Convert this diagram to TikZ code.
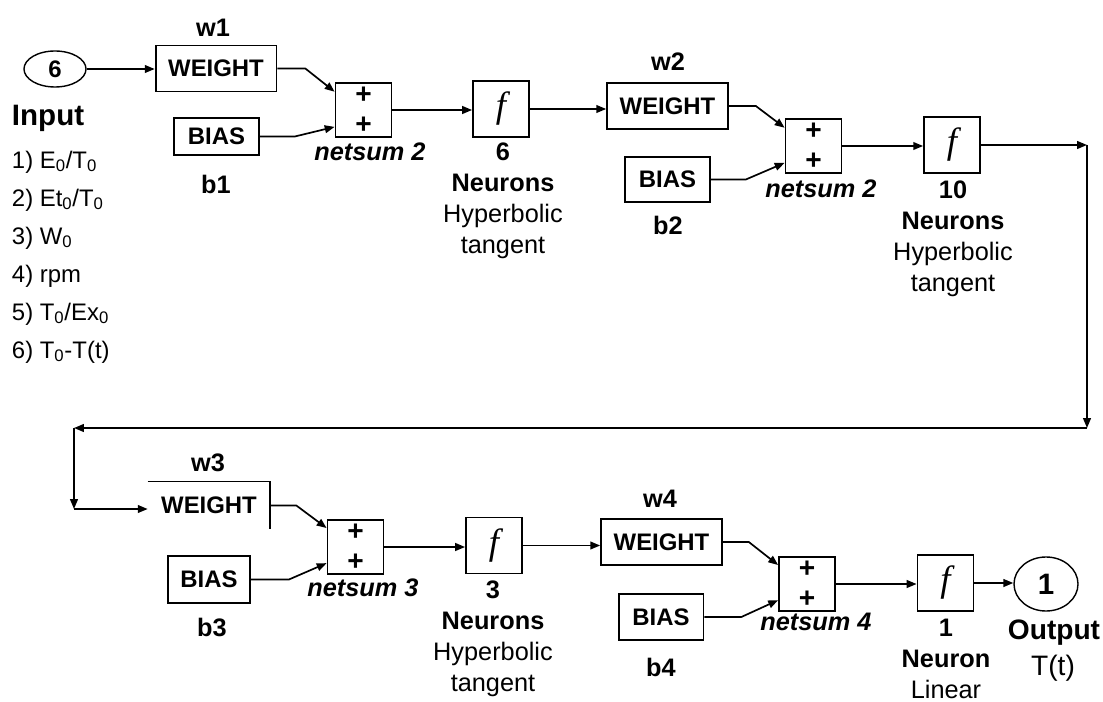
\documentclass[tikz,border=0pt]{standalone}
\usepackage{fontspec}
\setmainfont{Liberation Sans}
\newfontfamily\fnfont{Liberation Serif}
\usetikzlibrary{arrows.meta,shapes.geometric}

\begin{document}
\begin{tikzpicture}[x=0.025cm,y=-0.025cm,>={Triangle[length=7pt,width=5.5pt]},
  blk/.style={draw,line width=1.3pt,inner sep=0pt},
  wbox/.style={blk,minimum width=3.02cm,minimum height=1.15cm,font=\fontsize{17}{20}\selectfont\bfseries},
  bbox/.style={blk,minimum width=2.12cm,minimum height=1.13cm,font=\fontsize{17}{20}\selectfont\bfseries},
  sbox/.style={blk,minimum width=1.4cm,minimum height=1.37cm,align=center,font=\fontsize{20}{21}\selectfont\bfseries},
  fbox/.style={blk,minimum width=1.4cm,minimum height=1.4cm,font=\fontsize{26}{26}\selectfont\fnfont\itshape},
  io/.style={draw,ellipse,line width=1pt,inner sep=0pt},
  conn/.style={line width=1.2pt,->},
  tag/.style={font=\fontsize{18}{22}\selectfont\bfseries},
  net/.style={font=\fontsize{18}{22}\selectfont\bfseries\itshape},
  lab/.style={align=center,font=\fontsize{18}{22}\selectfont}]
\useasboundingbox (0,0) rectangle (1103,702);
% ---- input and list of variables ----
\node[io,minimum width=1.55cm,minimum height=0.9cm,font=\fontsize{17}{20}\selectfont\bfseries] (in) at (55,69) {6};
\node[anchor=west,font=\fontsize{21}{24}\selectfont\bfseries] (inlab) at (7,118) {Input};
\foreach \t [count=\i] in {{1) E\textsubscript{0}/T\textsubscript{0}},{2) Et\textsubscript{0}/T\textsubscript{0}},
  {3) W\textsubscript{0}},{4) rpm},{5) T\textsubscript{0}/Ex\textsubscript{0}},{6) T\textsubscript{0}-T(t)}}
  \node[anchor=west,font=\fontsize{17}{20}\selectfont] (item\i) at (7,{162+(\i-1)*38}) {\t};
% ---- layer 1 ----
\node[wbox] (w1) at (216,68.5) {WEIGHT};
\node[tag] (w1lab) at (213,28) {w1};
\node[bbox,minimum height=0.93cm] (b1) at (216.5,136.5) {BIAS};
\node[tag] (b1lab) at (216,184) {b1};
\node[sbox] (s1) at (363.5,110) {+\\+};
\node[net] (s1lab) at (370,152) {netsum 2};
\node[fbox] (f1) at (501,109) {f};
\node[lab] (f1lab) at (503,201) {\textbf{6}\\\textbf{Neurons}\\Hyperbolic\\tangent};
% ---- layer 2 ----
\node[wbox] (w2) at (667.5,106) {WEIGHT};
\node[tag] (w2lab) at (668,62) {w2};
\node[bbox] (b2) at (667.5,179.5) {BIAS};
\node[tag] (b2lab) at (668,225) {b2};
\node[sbox] (s2) at (813.5,146) {+\\+};
\node[net] (s2lab) at (821,189) {netsum 2};
\node[fbox] (f2) at (952,145) {f};
\node[lab] (f2lab) at (953,239) {\textbf{10}\\\textbf{Neurons}\\Hyperbolic\\tangent};
% ---- layer 3 ----
\node[wbox,draw=none] (w3) at (209,505.5) {WEIGHT};
\draw[line width=1.3pt] (w3.north west) -- (w3.north east) -- (w3.south east);
\node[tag] (w3lab) at (208,463) {w3};
\node[bbox,minimum width=2.05cm,minimum height=1.18cm] (b3) at (209,579.5) {BIAS};
\node[tag] (b3lab) at (212,627) {b3};
\node[sbox] (s3) at (355.5,547) {+\\+};
\node[net] (s3lab) at (363,588) {netsum 3};
\node[fbox] (f3) at (494,545.5) {f};
\node[lab] (f3lab) at (493,639) {\textbf{3}\\\textbf{Neurons}\\Hyperbolic\\tangent};
% ---- layer 4 ----
\node[wbox] (w4) at (661.5,542) {WEIGHT};
\node[tag] (w4lab) at (660,499) {w4};
\node[bbox] (b4) at (661,617) {BIAS};
\node[tag] (b4lab) at (661,667) {b4};
\node[sbox] (s4) at (807,584) {+\\+};
\node[net] (s4lab) at (816,622) {netsum 4};
\node[fbox] (f4) at (945.5,583) {f};
\node[lab] (f4lab) at (946,659) {\textbf{1}\\\textbf{Neuron}\\Linear};
% ---- output ----
\node[io,minimum width=1.6cm,minimum height=1.35cm,font=\fontsize{21}{24}\selectfont\bfseries] (out) at (1046,584) {1};
\node[font=\fontsize{20}{24}\selectfont\bfseries] (outlab) at (1054,633) {Output};
\node[font=\fontsize{20}{24}\selectfont] (outvar) at (1053,668) {T(t)};
% ---- connections ----
\coordinate (c1) at (1087,145);
\coordinate (c2) at (1087,428);
\coordinate (c3) at (74,428);
\coordinate (c4) at (74,509);
\draw[conn] (in.east) -- (in.east -| w1.west);
\draw[conn] (w1.east) -- ++(28,0) -- ([yshift=13pt]s1.west);
\draw[conn] (b1.east) -- ++(35,0) -- ([yshift=-12pt]s1.west);
\draw[conn] (s1.east) -- (s1.east -| f1.west);
\draw[conn] (f1.east) -- (f1.east -| w2.west);
\draw[conn] (w2.east) -- ++(27,0) -- ([yshift=13pt]s2.west);
\draw[conn] (b2.east) -- ++(35,0) -- ([yshift=-12pt]s2.west);
\draw[conn] (s2.east) -- (s2.east -| f2.west);
\draw[conn] (f2.east) -- (c1);
\draw[conn] (c1) -- (c2);
\draw[conn] (c2) -- (c3);
\draw[conn] (c3) -- (c4);
\draw[conn] (c4) -- (c4 -| w3.west);
\draw[conn] (w3.east) -- ++(26,0) -- ([yshift=13.5pt]s3.west);
\draw[conn] (b3.east) -- ++(38,0) -- ([yshift=-11.5pt]s3.west);
\draw[conn] (s3.east) -- (s3.east -| f3.west);
\draw[conn] (f3.east) -- (f3.east -| w4.west);
\draw[conn] (w4.east) -- ++(26,0) -- ([yshift=13.5pt]s4.west);
\draw[conn] (b4.east) -- ++(37,0) -- ([yshift=-11.5pt]s4.west);
\draw[conn] (s4.east) -- (s4.east -| f4.west);
\draw[conn] (f4.east) -- (f4.east -| out.west);
\end{tikzpicture}
\end{document}
